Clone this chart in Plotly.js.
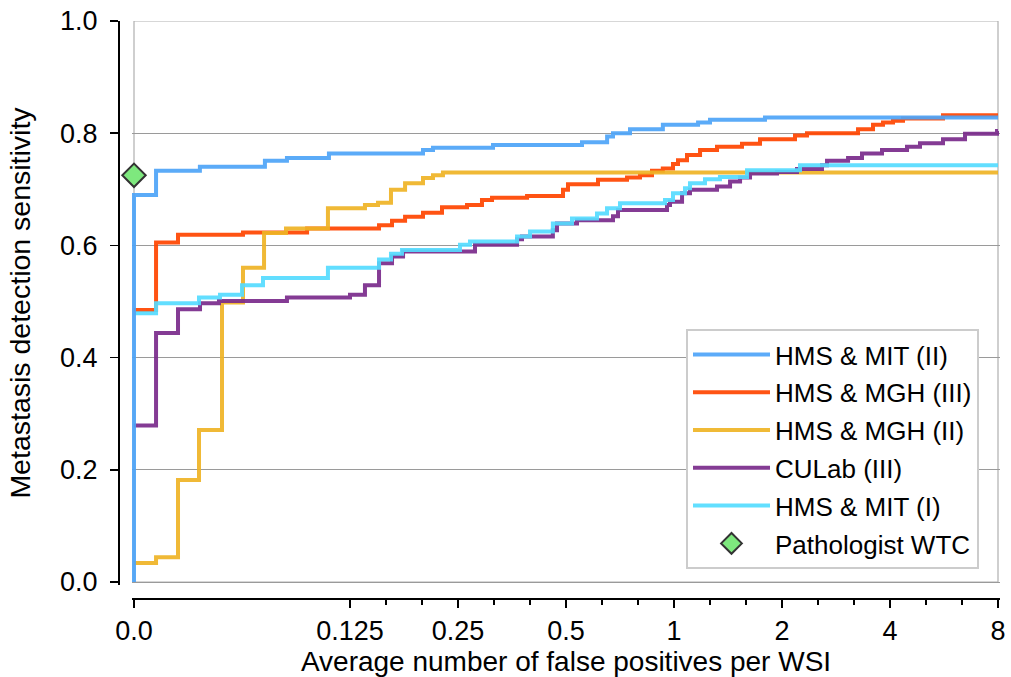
<!DOCTYPE html>
<html>
<head>
<meta charset="utf-8">
<script src="https://cdn.plot.ly/plotly-3.0.1.min.js"></script>
<style>html,body{margin:0;padding:0;background:#fff;}#chart{width:1011px;height:677px;}</style>
</head>
<body>
<div id="chart"></div>
<script>
// Average number of false positives per WSI (x) and sensitivity (y)
const mitIIx = [0, 0, 0.0360, 0.0477, 0.0724, 0.0834, 0.1092, 0.1997, 0.2129, 0.3130, 0.554, 0.651, 0.676, 0.754, 0.931, 1.167, 1.260, 1.793, 8];
const mitIIy = [0, 0.690, 0.733, 0.740, 0.751, 0.756, 0.764, 0.770, 0.774, 0.779, 0.784, 0.794, 0.800, 0.807, 0.815, 0.819, 0.824, 0.828, 0.828];

const mghIIIx = [0, 0.0360, 0.04145, 0.0629, 0.0949, 0.1506, 0.1637, 0.1780, 0.1997, 0.2256, 0.2649, 0.2916, 0.3110, 0.3894, 0.4905, 0.5064, 0.6140, 0.7397, 0.8040, 0.8683, 0.9307, 0.9936, 1.026, 1.087, 1.182, 1.318, 1.547, 1.737, 2.174, 2.348, 3.258, 3.587, 3.824, 4.078, 4.348, 5.621, 8];
const mghIIIy = [0.485, 0.605, 0.619, 0.623, 0.630, 0.636, 0.644, 0.651, 0.658, 0.668, 0.672, 0.681, 0.685, 0.688, 0.699, 0.709, 0.717, 0.721, 0.725, 0.733, 0.737, 0.745, 0.752, 0.761, 0.770, 0.776, 0.781, 0.789, 0.796, 0.800, 0.807, 0.815, 0.819, 0.822, 0.826, 0.832, 0.832];

const mghIIx = [0, 0.0360, 0.04145, 0.04743, 0.05497, 0.0629, 0.0720, 0.0829, 0.1085, 0.1376, 0.1496, 0.1626, 0.1780, 0.1997, 0.2129, 0.2270, 8];
const mghIIy = [0.034, 0.044, 0.182, 0.271, 0.498, 0.560, 0.622, 0.630, 0.666, 0.672, 0.676, 0.699, 0.711, 0.720, 0.725, 0.730, 0.730];

const culabIIIx = [0, 0.0360, 0.04145, 0.04774, 0.05392, 0.0834, 0.125, 0.1376, 0.1506, 0.1637, 0.1757, 0.2788, 0.3652, 0.3770, 0.4596, 0.4719, 0.5366, 0.6760, 0.6981, 0.9561, 0.9747, 1.053, 1.108, 1.318, 1.433, 1.528, 1.629, 1.937, 2.202, 2.585, 2.670, 3.056, 3.342, 3.800, 4.462, 4.849, 5.621, 6.474, 7.949, 8];
const culabIIIy = [0.279, 0.444, 0.486, 0.497, 0.501, 0.507, 0.512, 0.529, 0.568, 0.580, 0.589, 0.601, 0.611, 0.616, 0.627, 0.639, 0.645, 0.652, 0.663, 0.672, 0.678, 0.693, 0.699, 0.705, 0.714, 0.721, 0.728, 0.731, 0.736, 0.743, 0.751, 0.756, 0.764, 0.770, 0.776, 0.782, 0.789, 0.799, 0.804, 0.804];

const mitIx = [0, 0.0360, 0.04743, 0.05427, 0.0625, 0.07152, 0.1085, 0.1506, 0.1626, 0.1745, 0.2532, 0.2700, 0.3652, 0.3969, 0.4596, 0.5196, 0.6101, 0.6506, 0.7071, 0.9439, 0.9936, 1.073, 1.108, 1.220, 1.343, 1.598, 2.245, 8];
const mitIy = [0.479, 0.497, 0.507, 0.512, 0.529, 0.542, 0.560, 0.575, 0.585, 0.592, 0.601, 0.607, 0.616, 0.625, 0.639, 0.648, 0.657, 0.666, 0.675, 0.681, 0.693, 0.702, 0.711, 0.718, 0.722, 0.734, 0.743, 0.743];

const pathologistX = [0];
const pathologistY = [0.725];

const xTickVals = [0, 0.125, 0.25, 0.5, 1, 2, 4, 8];
const xTickText = ['0.0', '0.125', '0.25', '0.5', '1', '2', '4', '8'];
const yTickVals = [0, 0.2, 0.4, 0.6, 0.8, 1.0];
const yTickText = ['0.0', '0.2', '0.4', '0.6', '0.8', '1.0'];

// log axis: zero is drawn at the left limit of the axis (as a clipped log plot does)
const XMIN = 1 / 32, XMAX = 8;
const z = v => (v <= 0 ? XMIN : v);
const minorVals = [];
for (let k = -3; k < 3; k++) { minorVals.push(Math.pow(2, k + 1 / 3), Math.pow(2, k + 2 / 3)); }

const FONT = 'Liberation Sans, Arial, Helvetica, sans-serif';
const W = 4;
function line(name, xs, ys, color, rank) {
  return { type: 'scatter', mode: 'lines', name: name, x: xs.map(z), y: ys,
    line: { color: color, width: W, shape: 'hv' }, opacity: 0.92, legendrank: rank, legendgroup: name };
}
const traces = [
  line('HMS &amp; MGH (III)', mghIIIx, mghIIIy, '#ff4500', 2),
  line('HMS &amp; MGH (II)', mghIIx, mghIIy, '#efb425', 3),
  line('CULab (III)', culabIIIx, culabIIIy, '#7a2b8b', 4),
  line('HMS &amp; MIT (I)', mitIx, mitIy, '#55dcff', 5),
  line('HMS &amp; MIT (II)', mitIIx, mitIIy, '#4ea4f8', 1),
  { type: 'scatter', mode: 'markers', name: 'Pathologist WTC', x: pathologistX.map(z), y: pathologistY,
    marker: { symbol: 'diamond', size: 18, color: '#7ee87e', line: { color: '#333333', width: 2 } },
    cliponaxis: false, legendrank: 6, legendgroup: 'p' }
];

const lg = v => Math.log10(v);
const padL = 2 / 358.77; // 2px in log10 units
const layout = {
  width: 1011, height: 677,
  margin: { l: 118, r: 11, t: 21, b: 79 },
  paper_bgcolor: '#ffffff', plot_bgcolor: '#ffffff',
  font: { family: FONT, size: 25, color: '#000' },
  showlegend: true,
  xaxis: {
    type: 'log', range: [lg(XMIN) - padL, lg(XMAX) + padL],
    domain: [14 / 882, 1], anchor: 'free', position: 0,
    tickmode: 'array', tickvals: xTickVals.map(z), ticktext: xTickText,
    ticks: 'outside', ticklen: 8, tickwidth: 1.5, tickcolor: '#000',
    showline: true, linecolor: '#000', linewidth: 1.5, showgrid: false, zeroline: false,
    minor: { tickmode: 'array', tickvals: minorVals, ticks: 'outside', ticklen: 5, tickwidth: 1.2, tickcolor: '#000', showgrid: false },
    tickfont: { size: 27, family: FONT, color: '#000' },
    title: { text: 'Average number of false positives per WSI', font: { size: 28, family: FONT, color: '#000' }, standoff: 0 }
  },
  yaxis: {
    range: [-3 / 561, 1], domain: [13 / 577, 1], anchor: 'free', position: 0,
    tickmode: 'array', tickvals: yTickVals, ticktext: yTickText,
    ticks: 'outside', ticklen: 8, tickwidth: 1.5, tickcolor: '#000', ticklabelstandoff: 7,
    showline: true, linecolor: '#000', linewidth: 1.5,
    showgrid: true, gridcolor: '#9a9a9a', gridwidth: 1, zeroline: false,
    tickfont: { size: 27, family: FONT, color: '#000' },
    title: { text: 'Metastasis detection sensitivity', font: { size: 28.5, family: FONT, color: '#000' }, standoff: 19 }
  },
  shapes: [
    { type: 'rect', xref: 'x domain', yref: 'y', x0: 2 / 868, x1: 866 / 868, y0: 0, y1: 1,
      line: { color: '#b0b0b0', width: 1.2 }, layer: 'below' }
  ],
  legend: {
    x: (979 - 118) / 882, xanchor: 'right', y: (598 - 569) / 577, yanchor: 'bottom',
    bgcolor: '#ffffff', bordercolor: '#cccccc', borderwidth: 2,
    font: { size: 26, family: FONT, color: '#000' },
    traceorder: 'grouped', tracegroupgap: 1, itemwidth: 77
  }
};
Plotly.newPlot('chart', traces, layout, { staticPlot: true, displayModeBar: false });
</script>
</body>
</html>
